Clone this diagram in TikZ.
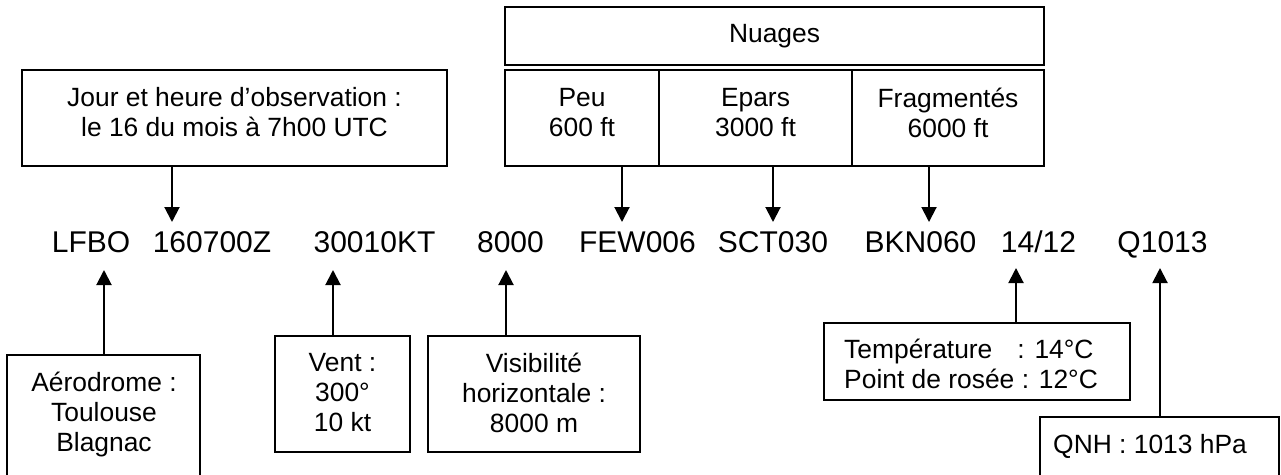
\documentclass[tikz,border=0pt]{standalone}
\usepackage{fontspec}
\setmainfont{Liberation Sans}
\usetikzlibrary{arrows.meta}

\begin{document}
\begin{tikzpicture}[
  x=1pt, y=-1pt,
  box/.style={
      draw=black,
      line width=2pt,
      inner sep=0pt
  },
  txt/.style={inner sep=0pt, align=center, font=\fontsize{26.4}{30}\selectfont},
  metar/.style={inner sep=0pt, anchor=base, font=\fontsize{30}{36}\selectfont},
  arr/.style={-{Triangle[length=15pt, width=15pt]}, line width=2pt}
]
\useasboundingbox (0,0) rectangle (1281,474);
\clip (0,0) rectangle (1281,474);

% message
\node[metar] (lfbo)  at (91,252)     {LFBO};
\node[metar] (date)  at (212,252)    {160700Z};
\node[metar] (wind)  at (374.5,252)  {30010KT};
\node[metar] (vis)   at (510.5,252)  {8000};
\node[metar] (few)   at (637.5,252)  {FEW006};
\node[metar] (sct)   at (773,252)    {SCT030};
\node[metar] (bkn)   at (920.5,252)  {BKN060};
\node[metar] (temp)  at (1038.5,252) {14/12};
\node[metar] (qnh)   at (1162.5,252) {Q1013};

% top boxes
\node[box, minimum width=425pt, minimum height=96pt] (jour) at (234.5,118) {};
\node[txt, anchor=north] (jourtxt) at (234.5,87) {Jour et heure d’observation :\\le 16 du mois à 7h00 UTC};

\node[box, minimum width=539pt, minimum height=58pt] (nuages) at (774.5,36) {};
\node[txt, anchor=base] (nuagestxt) at (774.5,42) {Nuages};
\node[box, minimum width=154pt, minimum height=96pt] (peu)    at (582,118)   {};
\node[box, minimum width=193pt, minimum height=96pt] (epars)  at (755.5,118) {};
\node[box, minimum width=192pt, minimum height=96pt] (frag)   at (948,118)   {};
\node[txt, anchor=north] (peutxt)   at (582,88)   {Peu\\600 ft};
\node[txt, anchor=north] (eparstxt) at (755.5,88) {Epars\\3000 ft};
\node[txt, anchor=north] (fragtxt)  at (948,88)   {Fragmentés\\6000 ft};

% bottom boxes
\node[box, minimum width=193pt, minimum height=145pt] (aero) at (103.5,427.5) {};
\node[txt, anchor=north] (aerotxt) at (104,372) {Aérodrome :\\Toulouse\\Blagnac};
\node[box, minimum width=135pt, minimum height=116pt] (vent) at (342.5,394) {};
\node[txt, anchor=north] (venttxt) at (342.5,353) {Vent :\\300°\\10 kt};
\node[box, minimum width=212pt, minimum height=116pt] (visi) at (534,394) {};
\node[txt, anchor=north] (visitxt) at (534,353) {Visibilité\\horizontale :\\8000 m};
\node[box, minimum width=306pt, minimum height=77pt] (tempbox) at (977,361.5) {};
\node[txt, align=left, anchor=north west] (temptxt) at (844,339) {Température\hspace{25pt}: 14°C\\Point de rosée : 12°C};
\node[box, minimum width=239pt, minimum height=83pt] (qnhbox) at (1159.5,458.5) {};
\node[txt, anchor=base west] (qnhtxt) at (1053,453) {QNH : 1013 hPa};

% arrow tips
\coordinate (tdate) at (172,222);
\coordinate (tfew)  at (622,222);
\coordinate (tsct)  at (773,222);
\coordinate (tbkn)  at (929,222);
\coordinate (tlfbo) at (104,270);
\coordinate (twind) at (333,270);
\coordinate (tvis)  at (506,270);
\coordinate (ttemp) at (1016,268);
\coordinate (tqnh)  at (1160,268);

\draw[arr] (jour.south -| tdate) -- (tdate);
\draw[arr] (peu.south -| tfew)   -- (tfew);
\draw[arr] (epars.south -| tsct) -- (tsct);
\draw[arr] (frag.south -| tbkn)  -- (tbkn);
\draw[arr] (aero.north -| tlfbo) -- (tlfbo);
\draw[arr] (vent.north -| twind) -- (twind);
\draw[arr] (visi.north -| tvis)  -- (tvis);
\draw[arr] (tempbox.north -| ttemp) -- (ttemp);
\draw[arr] (qnhbox.north -| tqnh)   -- (tqnh);

\end{tikzpicture}
\end{document}
